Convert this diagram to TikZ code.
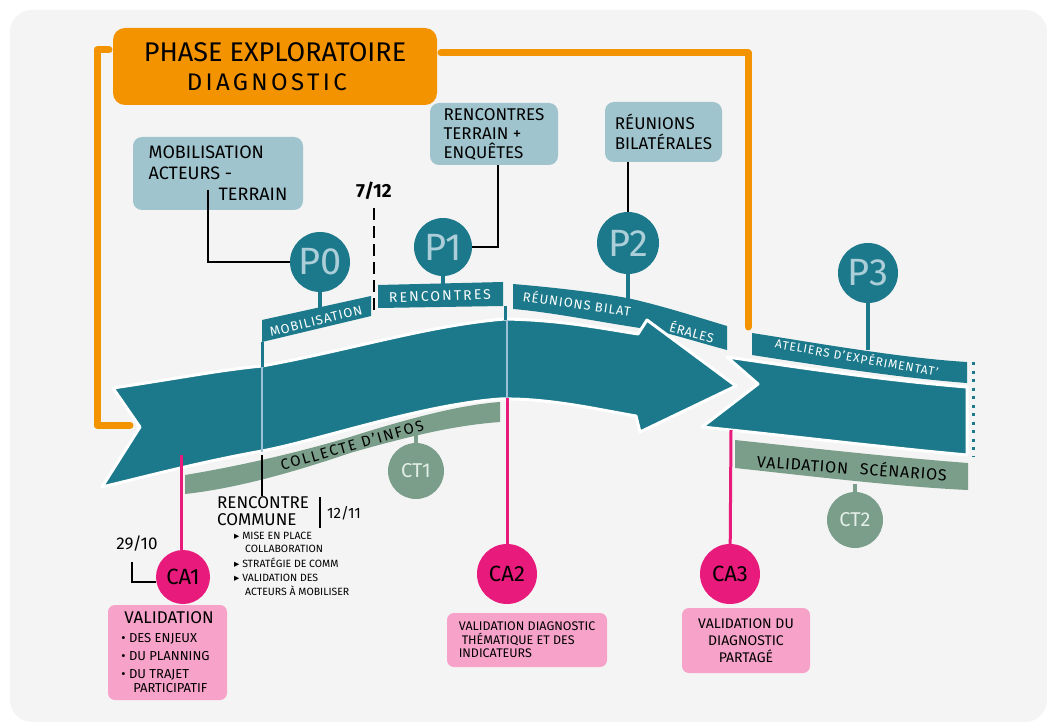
\documentclass[tikz,border=0pt]{standalone}
\usepackage{fontspec}
\setmainfont{Fira Sans}
\newfontfamily\symfont{DejaVu Sans}
\usetikzlibrary{positioning}
\definecolor{bandTeal}{RGB}{27,121,139}
\definecolor{infoBlue}{RGB}{160,196,205}
\definecolor{pText}{RGB}{172,206,216}
\definecolor{sage}{RGB}{122,158,138}
\definecolor{ctText}{RGB}{228,238,232}
\definecolor{caPink}{RGB}{232,26,124}
\definecolor{boxPink}{RGB}{246,162,201}
\definecolor{phaseOrange}{RGB}{243,147,0}
\definecolor{cardGray}{RGB}{244,244,244}
\definecolor{divBlue}{RGB}{158,192,214}
\newcommand{\fz}[2]{\fontsize{#1}{#2}\selectfont}

\begin{document}
\begin{tikzpicture}[
  x=1pt, y=-1pt,
  font=\fz{12}{14},
  info/.style={fill=infoBlue, rounded corners=9pt, inner sep=0pt, align=left},
  jalon/.style={circle, fill=bandTeal, minimum size=60pt, inner sep=0pt, text=pText, font=\fz{38}{38}},
  comite/.style={circle, fill=caPink, minimum size=60pt, inner sep=0pt, font=\fz{22}{22}},
  tech/.style={circle, fill=sage, minimum size=56pt, inner sep=0pt, text=ctText, font=\fz{20}{20}},
  valid/.style={fill=boxPink, rounded corners=7pt, inner sep=0pt},
  ruban/.style={fill=bandTeal, draw=white, line width=3pt, line join=round},
  bande/.style={fill=sage},
  bandtext/.style={text=white, inner sep=0pt, font=\fz{13}{13}\addfontfeature{LetterSpace=8}},
  stem/.style={draw=bandTeal, line width=4pt},
  lien/.style={draw=black, line width=1.6pt},
  rose/.style={draw=caPink, line width=3pt},
  cadre/.style={draw=phaseOrange, line width=7pt, line join=round, line cap=round},
  divider/.style={draw=divBlue, line width=2.5pt}
]
% fond
\fill[white] (0,0) rectangle (1047,722);
\fill[cardGray, rounded corners=22pt] (10,10) rectangle (1047,722);
\useasboundingbox (0,0) rectangle (1047,722);

% phase exploratoire
\node[fill=phaseOrange, rounded corners=12pt, minimum width=324pt, minimum height=77pt,
  align=left, inner sep=0pt, font=\fz{27}{29}] (phase) at (275,66.5)
  {PHASE EXPLORATOIRE\\\hspace*{43pt}{\addfontfeature{LetterSpace=14}\fz{24}{29}DIAGNOSTIC}};
\coordinate (cadreNW) at (109,50);
\coordinate (cadreSW) at (130,425);
\coordinate (cadreNE) at (441,53);
\coordinate (cadreE) at (748,327);
\draw[cadre] (cadreNW) -- (97,50) -- (97,425) -- (cadreSW);
\draw[cadre] (cadreNE) -| (cadreE);

% bulles d'info
\node[info, minimum width=170pt, minimum height=73pt, font=\fz{18}{21}] (mob) at (218,173.5)
  {MOBILISATION\\ACTEURS -\\\hspace*{70pt}TERRAIN};
\node[info, minimum width=128pt, minimum height=62pt, font=\fz{17}{19}] (renc) at (494,134)
  {RENCONTRES\\TERRAIN +\\ENQUÊTES};
\node[info, minimum width=117pt, minimum height=60pt, font=\fz{17}{20}] (reun) at (663.5,132)
  {RÉUNIONS\\BILATÉRALES};

% bandeaux du ruban
\fill[bandTeal] (262,320) -- (371,296) -- (371,316) -- (262,342) -- cycle;
\fill[bandTeal] (378,285) -- (503,282) -- (503,306) -- (378,308) -- cycle;
\fill[bandTeal] (513,284) .. controls (560,288) and (600,293) .. (627,298)
  .. controls (660,305) and (700,318) .. (727,326) -- (727,350)
  .. controls (690,340) and (660,330) .. (640,328)
  .. controls (600,322) and (550,312) .. (513,309) -- cycle;
\fill[bandTeal] (752,333) .. controls (810,342) and (900,358) .. (967,362) -- (967,383)
  .. controls (900,378) and (810,364) .. (752,355) -- cycle;
\fill[bande] (185,475) .. controls (240,466) and (300,452) .. (350,437)
  .. controls (410,418) and (460,405) .. (500,402) -- (500,422)
  .. controls (460,425) and (420,433) .. (350,453)
  .. controls (300,470) and (240,488) .. (185,494) -- cycle;
\fill[bande] (735,440) .. controls (800,447) and (900,458) .. (968,463) -- (968,490)
  .. controls (900,487) and (800,475) .. (735,468) -- cycle;

% ruban principal
\path[ruban] (113,388) .. controls (180,378) and (220,370) .. (262,366)
  .. controls (350,350) and (430,325) .. (505,319)
  .. controls (560,320) and (600,328) .. (638,334)
  -- (647,320) -- (736,386) -- (640,432) -- (636,416)
  .. controls (600,410) and (550,398) .. (500,399)
  .. controls (420,405) and (320,440) .. (262,451)
  .. controls (200,462) and (140,478) .. (102,487)
  -- (140,427) -- cycle;
\path[ruban] (727,357) .. controls (790,366) and (880,380) .. (967,387) -- (967,455)
  .. controls (880,447) and (790,436) .. (702,427) -- (758,384) -- cycle;
\draw[bandTeal, line width=3pt, dash pattern=on 3pt off 5.5pt] (973,362) -- (973,456);

% textes du ruban
\node[bandtext, rotate=14] (tMob) at (316,321) {MOBILISATION};
\node[bandtext, rotate=2, font=\fz{14}{14}\addfontfeature{LetterSpace=15}] (tRenc) at (440,296) {RENCONTRES};
\node[bandtext, rotate=-8] (tReun) at (577,303) {RÉUNIONS BILAT};
\node[bandtext, rotate=-15, font=\fz{13}{13}\addfontfeature{LetterSpace=4}] (tEral) at (692,332) {ÉRALES};
\node[bandtext, rotate=-10, font=\fz{12}{12}\addfontfeature{LetterSpace=8}] (tAtel) at (857,357) {ATELIERS D'EXPÉRIMENTAT'};
\node[rotate=16, inner sep=0pt, font=\fz{15}{15}\addfontfeature{LetterSpace=12}] (tCol) at (352,445) {COLLECTE D'INFOS};
\node[rotate=-4, inner sep=0pt, font=\fz{16}{16}\addfontfeature{LetterSpace=5}] (tScen) at (852,467) {VALIDATION\hspace{12pt}SCÉNARIOS};

% separations
\coordinate (mobLow) at (262,342);
\coordinate (bandTopL) at (262,367);
\coordinate (bandBotL) at (262,452);
\coordinate (rencLow) at (505,306);
\coordinate (bandTopR) at (505,320);
\coordinate (divTop) at (507,320);
\coordinate (ca2Top) at (507,398);
\draw[stem, line width=3pt] (mobLow) -- (bandTopL);
\draw[divider] (bandTopL) -- (bandBotL);
\draw[stem, line width=3pt] (rencLow) -- (bandTopR);
\draw[divider] (divTop) -- (ca2Top);

% jalons
\node[jalon] (p0) at (320,262) {P0};
\node[jalon, minimum size=58pt] (p1) at (443,247) {P1};
\node[jalon, minimum size=62pt] (p2) at (628,243) {P2};
\node[jalon] (p3) at (868,273) {P3};
\coordinate (p0Base) at (320,308);
\coordinate (p1Base) at (443,285);
\coordinate (p2Base) at (628,299);
\coordinate (p3Base) at (868,350);
\draw[stem] (p0) -- (p0Base);
\draw[stem] (p1) -- (p1Base);
\draw[stem] (p2) -- (p2Base);
\draw[stem] (p3) -- (p3Base);

\coordinate (mobFoot) at (208,190);
\draw[lien] (mobFoot) |- (p0);
\draw[lien] ([xshift=4pt]renc.south) |- (p1);
\draw[lien] (reun.south -| p2) -- (p2);

% 7/12
\node[font=\fz{19}{19}\bfseries] (d712) at (374,191) {7/12};
\coordinate (cut712) at (374,314);
\draw[lien, dash pattern=on 12pt off 6pt] ([yshift=-5pt]d712.south) -- (cut712);

% comites techniques
\node[tech] (ct1) at (416,471) {CT1};
\node[tech] (ct2) at (855,520) {CT2};
\coordinate (ct1Top) at (416,430);
\coordinate (ct2Top) at (855,484);
\draw[stem, draw=sage] (ct1Top) -- (ct1);
\draw[stem, draw=sage] (ct2Top) -- (ct2);

% comites d'acteurs
\node[comite, minimum size=54pt] (ca1) at (183,577) {CA1};
\node[comite] (ca2) at (507,574) {CA2};
\node[comite] (ca3) at (730,574) {CA3};
\coordinate (ca1Top) at (181,455);
\coordinate (ca3Top) at (731,430);
\draw[rose] (ca1Top) -- (ca1Top |- ca1.north);
\draw[rose] (ca2Top) -- (ca2);
\draw[rose] (ca3Top) -- (ca3);

\node[font=\fz{17}{17}] (d2910) at (137,544) {29/10};
\coordinate (d2910Foot) at (132,562);
\draw[lien] (d2910Foot) |- ([yshift=-5pt]ca1.west);

\node[valid, minimum width=119pt, minimum height=95pt, align=left, font=\fz{13}{18}] (v1) at (167.5,652.5)
  {\hspace*{3pt}{\fz{17}{18}VALIDATION}\\[1pt]\textbullet\ DES ENJEUX\\\textbullet\ DU PLANNING\\\textbullet\ DU TRAJET\\[-4pt]\hspace*{12pt}PARTICIPATIF};
\node[valid, minimum width=160pt, minimum height=54pt, align=left, font=\fz{12.5}{13.5}] (v2) at (527,640)
  {VALIDATION DIAGNOSTIC\\\hspace*{3pt}THÉMATIQUE ET DES\\INDICATEURS};
\node[valid, minimum width=128pt, minimum height=65pt, align=center, font=\fz{14}{17}] (v3) at (746,640.5)
  {VALIDATION DU\\DIAGNOSTIC\\PARTAGÉ};

% rencontre commune
\node[anchor=north west, inner sep=0pt, align=left, font=\fz{17}{17}] (rc) at (217,496) {RENCONTRE\\COMMUNE};
\coordinate (rcTop) at (262,455);
\draw[lien] (rcTop) -- (rcTop |- rc.north);
\coordinate (rcBarTop) at (320,497);
\coordinate (rcBarBot) at (320,528);
\draw[lien, line width=2.8pt] (rcBarTop) -- (rcBarBot);
\node[font=\fz{15}{15}, inner sep=0pt] (d1211) at (344,513) {12/11};
\node[below right=6pt and 17pt of rc.south west, anchor=north west, inner sep=0pt, align=left, font=\fz{10.5}{13.5}] (liste)
  {{\symfont▸} MISE EN PLACE\\\hspace*{11pt}COLLABORATION\\[1pt]{\symfont▸} STRATÉGIE DE COMM\\[1pt]{\symfont▸} VALIDATION DES\\\hspace*{11pt}ACTEURS À MOBILISER};
\end{tikzpicture}
\end{document}
